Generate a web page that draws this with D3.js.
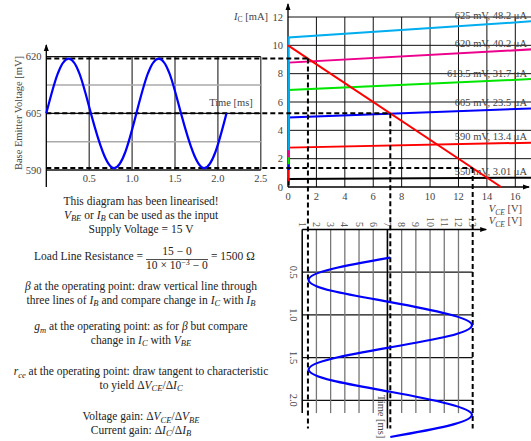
<!DOCTYPE html>
<html>
<head>
<meta charset="utf-8">
<script src="https://cdn.jsdelivr.net/npm/d3@7"></script>
<style>
  body { margin: 0; background: #fff; }
  svg { display: block; font-family: "Liberation Serif", "DejaVu Serif", serif; }
  text { fill: #222; }
</style>
</head>
<body>
<svg id="chart" width="531" height="441"></svg>
<script>
// input: base emitter voltage [mV] over time [ms]
const vbeTime = [0, 0.13, 0.26, 0.39, 0.52, 0.66, 0.79, 0.92, 1.05, 1.18, 1.31, 1.44, 1.57, 1.71, 1.84, 1.97, 2.1];
const vbeValues = [605, 615.3, 619.5, 615.3, 605, 594.7, 590.5, 594.7, 605, 615.3, 619.5, 615.3, 605, 594.7, 590.5, 594.7, 605];

// output: collector emitter voltage [V] over time [ms]
const vceTime = [0.33, 0.46, 0.59, 0.72, 0.85, 0.99, 1.12, 1.25, 1.38, 1.51, 1.64, 1.77, 1.9, 2.04, 2.17, 2.3, 2.43];
const vceValues = [7.2, 3.15, 1.45, 3.15, 7.2, 11.25, 12.95, 11.25, 7.2, 3.15, 1.45, 3.15, 7.2, 11.25, 12.95, 11.25, 7.2];

// output characteristics (IC in mA)
const curveVbe = ["625", "620", "613.5", "605", "590", "550"];
const curveIb = ["48.2", "40.2", "31.7", "23.5", "13.4", "3.01"];
const curveFoot = [2.6, 2.1, 1.6, 1.2, 0.4, 0.1];
const curveKnee = [10.55, 8.78, 6.85, 4.9, 2.78, 0.56];
const curveEnd = [11.7, 9.72, 7.62, 5.55, 3.13, 0.66];
const curveColors = ["#00aeef", "#ec008c", "#00e600", "#0000ff", "#ff0000", "#000000"];
const kneeVce = 0.05;
const endVce = 17.2;

// load line
const supplyVoltage = 15;
const maxCurrent = 10;
// VBE swing used for the dashed construction lines
const vbeLevels = [619.5, 605, 590.5];

// ticks
const vbeTicks = [590, 605, 620];
const vbeMinor = [597.5, 612.5];
const timeTicks = [0.5, 1.0, 1.5, 2.0, 2.5];
const vceTicks = [0, 2, 4, 6, 8, 10, 12, 14, 16];
const icTicks = [0, 2, 4, 6, 8, 10, 12];
const vceOutTicks = [1, 2, 3, 4, 5, 6, 7, 8, 9, 10, 11, 12, 13];
const timeOutTicks = [0.5, 1.0, 1.5, 2.0];

const notes = [
  "This diagram has been linearised!",
  "*V*_BE_ or *I*_B_ can be used as the input",
  "Supply Voltage = 15 V",
  "*β* at the operating point: draw vertical line through",
  "three lines of *I*_B_ and compare change in *I*_C_ with *I*_B_",
  "*g*_m_ at the operating point: as for *β* but compare",
  "change in *I*_C_ with *V*_BE_",
  "*r*_ce_ at the operating point: draw tangent to characteristic",
  "to yield Δ*V*_CE_/Δ*I*_C_",
  "Voltage gain: Δ*V*_CE_/Δ*V*_BE_",
  "Current gain: Δ*I*_C_/Δ*I*_B_"
];

const svg = d3.select("#chart");
const W = 531;

svg.append("defs")
  .append("marker")
  .attr("id", "arrow")
  .attr("viewBox", "0 -3 7 6")
  .attr("refX", 6)
  .attr("refY", 0)
  .attr("markerWidth", 7)
  .attr("markerHeight", 6)
  .attr("markerUnits", "userSpaceOnUse")
  .attr("orient", "auto")
  .append("path")
  .attr("d", "M0,-2.5L7,0L0,2.5Z")
  .attr("fill", "#000");

// scales
const xT = d3.scaleLinear().domain([0, 2.5]).range([46.3, 260.8]);
const yV = d3.scaleLinear().domain([590, 620]).range([170, 56.7]);
const xV = d3.scaleLinear().domain([0, 16]).range([288, 515.3]);
const yI = d3.scaleLinear().domain([0, 12]).range([187, 17]);
const yT = d3.scaleLinear().domain([0, 2]).range([229.5, 400.3]);

// text with *italic*, _italic subscript_ and ~upright subscript~ pieces
function richText(sel, str, subSize = 7.5) {
  const parts = str.split(/(\*[^*]+\*|_[^_]+_|~[^~]+~)/).filter((s) => s.length);
  let shift = 0;
  parts.forEach((p) => {
    const t = sel.append("tspan");
    if (p[0] === "_" || p[0] === "~") {
      t.text(p.slice(1, -1))
        .attr("font-size", subSize)
        .attr("font-style", p[0] === "_" ? "italic" : "normal")
        .attr("dy", 2.5 - shift);
      shift = 2.5;
    } else {
      if (p[0] === "*") t.text(p.slice(1, -1)).attr("font-style", "italic");
      else t.text(p);
      t.attr("dy", -shift);
      shift = 0;
    }
  });
  return sel;
}

function line(g, x1, y1, x2, y2, stroke, width) {
  return g.append("line")
    .attr("x1", x1).attr("y1", y1).attr("x2", x2).attr("y2", y2)
    .attr("stroke", stroke).attr("stroke-width", width);
}

// ---------------- input sine (top left) ----------------
const gIn = svg.append("g");

gIn.selectAll(".vgrid").data(timeTicks).enter().append("line")
  .attr("x1", (d) => xT(d)).attr("x2", (d) => xT(d))
  .attr("y1", yV(620)).attr("y2", yV(590))
  .attr("stroke", "#333").attr("stroke-width", 1.2);

gIn.selectAll(".minor").data(vbeMinor).enter().append("line")
  .attr("x1", xT(0)).attr("x2", xT(2.5))
  .attr("y1", (d) => yV(d)).attr("y2", (d) => yV(d))
  .attr("stroke", "#aaa").attr("stroke-width", 1.5);

gIn.selectAll(".major").data(vbeTicks).enter().append("line")
  .attr("x1", xT(0)).attr("x2", xT(2.5))
  .attr("y1", (d) => yV(d)).attr("y2", (d) => yV(d))
  .attr("stroke", "#111").attr("stroke-width", 1.3);

line(gIn, xT(0), 187, xT(0), 45, "#000", 1.3).attr("marker-end", "url(#arrow)");

gIn.selectAll(".ylab").data(vbeTicks).enter().append("text")
  .attr("x", 41.5).attr("y", (d) => yV(d) + 3.7)
  .attr("text-anchor", "end").attr("font-size", 10.5).style("fill", "#444")
  .text((d) => d);

gIn.selectAll(".xlab").data(timeTicks).enter().append("text")
  .attr("x", (d) => xT(d)).attr("y", 182)
  .attr("text-anchor", "middle").attr("font-size", 10.5).style("fill", "#444")
  .text((d) => d.toFixed(1));

gIn.append("text")
  .attr("transform", "translate(21.5,113) rotate(-90)")
  .attr("text-anchor", "middle").attr("font-size", 10.5).style("fill", "#444")
  .text("Base Emitter Voltage [mV]");

gIn.append("text")
  .attr("x", 231).attr("y", 105.5)
  .attr("text-anchor", "middle").attr("font-size", 10.5).style("fill", "#444")
  .text("Time [ms]");

// ---------------- output characteristics (top right) ----------------
const gIc = svg.append("g");

gIc.selectAll(".hgrid").data(icTicks.slice(1)).enter().append("line")
  .attr("x1", xV(0)).attr("x2", W)
  .attr("y1", (d) => yI(d)).attr("y2", (d) => yI(d))
  .attr("stroke", "#111").attr("stroke-width", 1);

gIc.selectAll(".vgrid").data(vceTicks.slice(1)).enter().append("line")
  .attr("x1", (d) => xV(d)).attr("x2", (d) => xV(d))
  .attr("y1", yI(0)).attr("y2", yI(12))
  .attr("stroke", "#111").attr("stroke-width", 1);

line(gIc, xV(0), yI(0), W - 2, yI(0), "#000", 1.3).attr("marker-end", "url(#arrow)");
line(gIc, xV(0), yI(0), xV(0), 4, "#000", 1.3).attr("marker-end", "url(#arrow)");

const curvePath = d3.line().x((d) => xV(d[0])).y((d) => yI(d[1]));
const order = d3.range(curveVbe.length).reverse();
gIc.selectAll(".curve").data(order).enter().append("path")
  .attr("fill", "none")
  .attr("stroke", (i) => curveColors[i])
  .attr("stroke-width", 2)
  .attr("d", (i) => curvePath([[kneeVce, curveFoot[i]], [kneeVce, curveKnee[i]], [endVce, curveEnd[i]]]));

gIc.selectAll(".clab").data(order).enter().append("text")
  .attr("x", 527).attr("y", (i) => yI(curveEnd[i]) - 2.5)
  .attr("text-anchor", "end").attr("font-size", 10.5).style("fill", "#444")
  .text((i) => `${curveVbe[i]} mV, ${curveIb[i]} μA`);

// load line
gIc.append("path")
  .attr("fill", "none").attr("stroke", "#ff0000").attr("stroke-width", 2)
  .attr("d", curvePath([[0, maxCurrent], [supplyVoltage, 0]]));

gIc.selectAll(".ylab").data(icTicks).enter().append("text")
  .attr("x", 283).attr("y", (d) => yI(d) + 3.7)
  .attr("text-anchor", "end").attr("font-size", 10.5).style("fill", "#444")
  .text((d) => d);

gIc.selectAll(".xlab").data(vceTicks).enter().append("text")
  .attr("x", (d) => xV(d)).attr("y", 199.5)
  .attr("text-anchor", "middle").attr("font-size", 10.5).style("fill", "#444")
  .text((d) => d);

richText(gIc.append("text").attr("x", 268).attr("y", 19.5)
  .attr("text-anchor", "end").attr("font-size", 10.5).style("fill", "#444"), "*I*~C~ [mA]");
richText(gIc.append("text").attr("x", 522).attr("y", 212)
  .attr("text-anchor", "end").attr("font-size", 10.5).style("fill", "#444"), "*V*_CE_ [V]");

// ---------------- output VCE over time (bottom right) ----------------
const gOut = svg.append("g");

gOut.selectAll(".hgrid").data(timeOutTicks).enter().append("line")
  .attr("x1", xV(1)).attr("x2", xV(13))
  .attr("y1", (d) => yT(d)).attr("y2", (d) => yT(d))
  .attr("stroke", "#111").attr("stroke-width", 1.2);

gOut.selectAll(".vgrid").data(vceOutTicks.slice(1, -1)).enter().append("line")
  .attr("x1", (d) => xV(d)).attr("x2", (d) => xV(d))
  .attr("y1", yT(0)).attr("y2", yT(2.15))
  .attr("stroke", "#777").attr("stroke-width", 1.3);

line(gOut, xV(1), yT(0), xV(1), yT(2.15), "#000", 1.5);
line(gOut, xV(1), yT(0), xV(13.95), yT(0), "#000", 1.5).attr("marker-end", "url(#arrow)");
line(gOut, xV(7), yT(0), xV(7), yT(2.33), "#000", 1.5);

gOut.selectAll(".vlab").data(vceOutTicks).enter().append("text")
  .attr("transform", (d) => `translate(${xV(d) - 3.5},227) rotate(90)`)
  .attr("text-anchor", "end").attr("font-size", 10).style("fill", "#555")
  .text((d) => d);

gOut.selectAll(".tlab").data(timeOutTicks).enter().append("text")
  .attr("transform", (d) => `translate(289.5,${yT(d)}) rotate(90)`)
  .attr("text-anchor", "middle").attr("font-size", 10.5).style("fill", "#444")
  .text((d) => d.toFixed(1));

gOut.append("text")
  .attr("transform", "translate(378,416.5) rotate(90)")
  .attr("text-anchor", "middle").attr("font-size", 10.5).style("fill", "#444")
  .text("Time [ms]");

richText(gOut.append("text").attr("x", 522).attr("y", 224)
  .attr("text-anchor", "end").attr("font-size", 10.5).style("fill", "#444"), "*V*_CE_ [V]");

// ---------------- dashed construction lines ----------------
const gDash = svg.append("g");
vbeLevels.forEach((v) => {
  const y = yV(v);
  const ic = yI.invert(y);
  const vce = supplyVoltage * (1 - ic / maxCurrent);
  line(gDash, xT(0), y, xV(vce), y, "#000", 2).attr("stroke-dasharray", "5,3");
  line(gDash, xV(vce), y, xV(vce), yT(2.33), "#000", 2).attr("stroke-dasharray", "5,3");
});

// ---------------- sine waves ----------------
const sineIn = d3.line()
  .x((d, i) => xT(vbeTime[i]))
  .y((d) => yV(d))
  .curve(d3.curveNatural);
svg.append("path")
  .attr("fill", "none").attr("stroke", "#0000ff").attr("stroke-width", 2.2)
  .attr("d", sineIn(vbeValues));

const sineOut = d3.line()
  .x((d) => xV(d))
  .y((d, i) => yT(vceTime[i]))
  .curve(d3.curveNatural);
svg.append("path")
  .attr("fill", "none").attr("stroke", "#0000ff").attr("stroke-width", 2.2)
  .attr("d", sineOut(vceValues));

// ---------------- notes ----------------
const gNotes = svg.append("g").attr("font-size", 11.5);
const noteY = [205, 218.5, 233, 290, 303.5, 330, 343.5, 375, 388.5, 420, 433.5];
notes.forEach((s, i) => {
  richText(gNotes.append("text").attr("x", 141).attr("y", noteY[i]).attr("text-anchor", "middle"), s, 8.5);
});

// load line resistance fraction
gNotes.append("text").attr("x", 143).attr("y", 260).attr("text-anchor", "end")
  .text("Load Line Resistance =");
gNotes.append("text").attr("x", 177).attr("y", 255).attr("text-anchor", "middle")
  .text(`${supplyVoltage} − 0`);
line(gNotes, 146, 259.5, 208, 259.5, "#222", 0.8);
const den = gNotes.append("text").attr("x", 177).attr("y", 268.5).attr("text-anchor", "middle");
den.append("tspan").text(`${maxCurrent} × 10`);
den.append("tspan").attr("font-size", 8).attr("dy", -4).text("−3");
den.append("tspan").attr("dy", 4).text(" − 0");
gNotes.append("text").attr("x", 211).attr("y", 260)
  .text(`= ${supplyVoltage / (maxCurrent * 1e-3)} Ω`);
</script>
</body>
</html>
